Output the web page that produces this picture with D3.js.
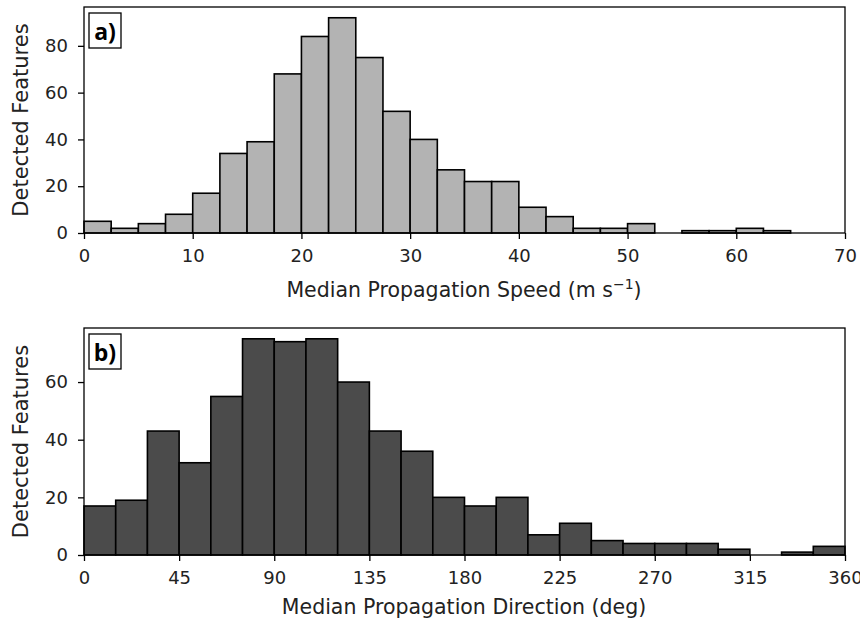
<!DOCTYPE html>
<meta charset="utf-8" />
<head>
  <style>
    body { margin: 0; background: #fff; }
    svg text { font-family: "DejaVu Sans", sans-serif; fill: #222; }
    .tick text { font-size: 18px; }
    .domain { display: none; }
    .tick line { stroke: #000; stroke-width: 1.3; }
    .panel-label { font-family: "Open Sans", "Liberation Sans", sans-serif; font-weight: 700; font-size: 23px; fill: #000; }
  </style>
</head>
<script src="https://d3js.org/d3.v7.min.js"></script>
<body>
  <svg id="chart" width="860" height="621"></svg>
  <script>
    // histogram a) speed, 2.5 m/s bins from 0 to 70
    const speedBinWidth = 2.5;
    const speedCounts = [5, 2, 4, 8, 17, 34, 39, 68, 84, 92, 75, 52, 40, 27,
      22, 22, 11, 7, 2, 2, 4, 0, 1, 1, 2, 1, 0, 0];
    const speedTicks = [0, 10, 20, 30, 40, 50, 60, 70];
    const speedYTicks = [0, 20, 40, 60, 80];

    // histogram b) direction, 15 deg bins from 0 to 360
    const dirBinWidth = 15;
    const dirCounts = [17, 19, 43, 32, 55, 75, 74, 75, 60, 43, 36, 20,
      17, 20, 7, 11, 5, 4, 4, 4, 2, 0, 1, 3];
    const dirTicks = [0, 45, 90, 135, 180, 225, 270, 315, 360];
    const dirYTicks = [0, 20, 40, 60];

    const svg = d3.select("#chart");

    // panel geometry
    const left = 84, right = 845;

    function panel(opts) {
      const g = svg.append("g");
      const bins = opts.counts.map((c, i) => ({
        x0: i * opts.binWidth,
        x1: (i + 1) * opts.binWidth,
        n: c
      }));
      const x = d3.scaleLinear().domain(opts.xDomain).range([left, right]);
      const ymax = d3.max(opts.counts) * 1.05;
      const y = d3.scaleLinear().domain([0, ymax]).range([opts.bottom, opts.top]);

      // bars
      g.selectAll("rect.bar")
        .data(bins.filter(d => d.n > 0))
        .join("rect")
        .attr("class", "bar")
        .attr("x", d => x(d.x0))
        .attr("y", d => y(d.n))
        .attr("width", d => x(d.x1) - x(d.x0))
        .attr("height", d => y(0) - y(d.n))
        .attr("fill", opts.fill)
        .attr("stroke", "#000")
        .attr("stroke-width", 1.6);

      // frame
      g.append("rect")
        .attr("x", left)
        .attr("y", opts.top)
        .attr("width", right - left)
        .attr("height", opts.bottom - opts.top)
        .attr("fill", "none")
        .attr("stroke", "#000")
        .attr("stroke-width", 1.3);

      // axes
      g.append("g")
        .attr("transform", `translate(0,${opts.bottom})`)
        .call(d3.axisBottom(x).tickValues(opts.xTicks).tickSize(6).tickPadding(10).tickFormat(d3.format("d")));

      g.append("g")
        .attr("transform", `translate(${left},0)`)
        .call(d3.axisLeft(y).tickValues(opts.yTicks).tickSize(6).tickPadding(10));

      // y label
      g.append("text")
        .attr("transform", `translate(28,${(opts.top + opts.bottom) / 2}) rotate(-90)`)
        .attr("text-anchor", "middle")
        .attr("font-size", "21px")
        .text("Detected Features");

      // x label
      const xl = g.append("text")
        .attr("x", (left + right) / 2 - 0.5)
        .attr("y", opts.labelY)
        .attr("text-anchor", "middle")
        .attr("font-size", "20.5px");
      xl.append("tspan").text(opts.xLabel);
      if (opts.sup) {
        xl.append("tspan").attr("dy", -8).attr("font-size", "14px").text(opts.sup);
        xl.append("tspan").attr("dy", 8).text(")");
      }

      // panel tag
      g.append("rect")
        .attr("x", 89)
        .attr("y", opts.top + 6)
        .attr("width", 32)
        .attr("height", 35)
        .attr("fill", "#fff")
        .attr("stroke", "#000")
        .attr("stroke-width", 1.3);
      g.append("text")
        .attr("class", "panel-label")
        .attr("x", 105)
        .attr("y", opts.top + 33)
        .attr("text-anchor", "middle")
        .text(opts.tag);
    }

    panel({
      counts: speedCounts, binWidth: speedBinWidth, xDomain: [0, 70],
      xTicks: speedTicks, yTicks: speedYTicks,
      top: 7, bottom: 233, labelY: 297,
      fill: "#b3b3b3", xLabel: "Median Propagation Speed (m s", sup: "\u22121", tag: "a)"
    });

    panel({
      counts: dirCounts, binWidth: dirBinWidth, xDomain: [0, 360],
      xTicks: dirTicks, yTicks: dirYTicks,
      top: 328, bottom: 555, labelY: 614,
      fill: "#4b4b4b", xLabel: "Median Propagation Direction (deg)", tag: "b)"
    });
  </script>
</body>
